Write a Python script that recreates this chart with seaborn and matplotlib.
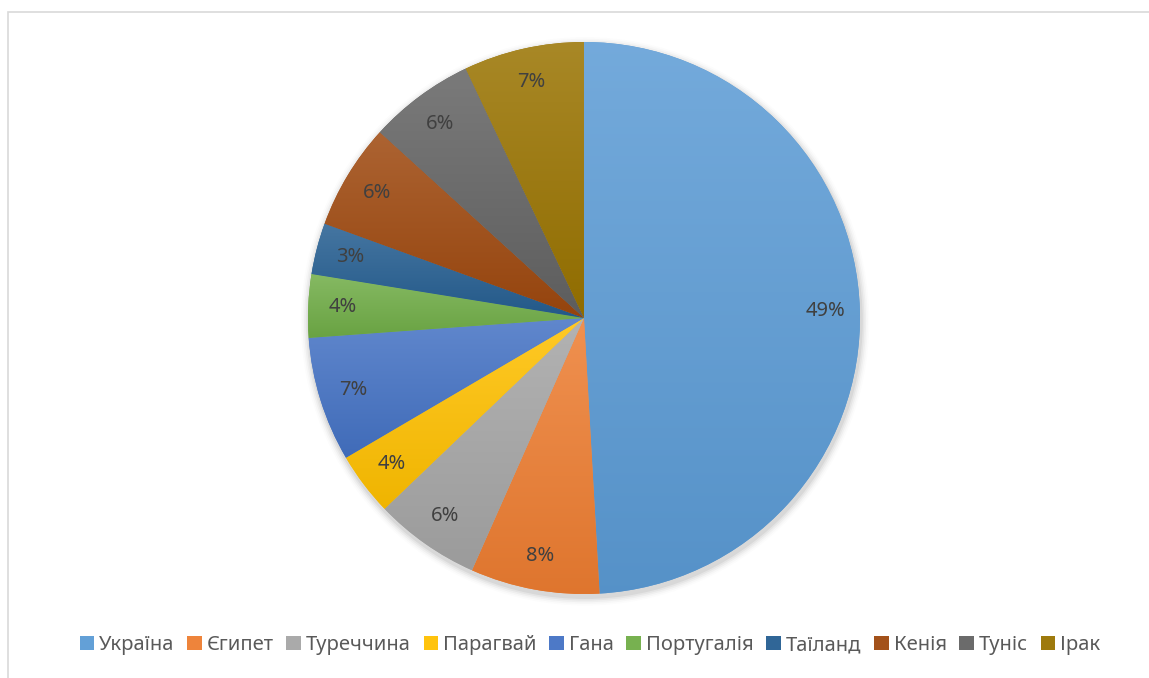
import matplotlib
matplotlib.use("Agg")
import matplotlib.pyplot as plt
import matplotlib.colors as mcolors
import numpy as np
import seaborn as sns
from matplotlib.patches import Rectangle

countries = ['Україна', 'Єгипет', 'Туреччина', 'Парагвай', 'Гана',
             'Португалія', 'Таїланд', 'Кенія', 'Туніс', 'Ірак']
shares = [49.1, 7.55, 6.2, 3.7, 7.3, 3.7, 3.0, 6.2, 6.2, 7.05]
base_colors = ['#5B9BD5', '#ED7D31', '#A5A5A5', '#FFC000', '#4472C4',
               '#70AD47', '#255E91', '#9E480E', '#636363', '#997300']

sns.set_theme(style='white')
plt.rcParams['font.family'] = ['Noto Sans', 'DejaVu Sans']

palette = sns.color_palette(base_colors)


def mix(c, other, t):
    c = np.array(mcolors.to_rgb(c))
    return tuple(c * (1 - t) + np.array(other) * t)


fig = plt.figure(figsize=(11.49, 6.78), dpi=100)
fig.patch.set_facecolor('white')

# chart border (only left/top visible)
fig.add_artist(Rectangle((8 / 1149, -0.05), 1.2, 1 - 12 / 678 + 0.05,
                         transform=fig.transFigure, fill=False,
                         edgecolor='#D9D9D9', linewidth=1.2))

cx, cy, r = 584, 318, 276
ax = fig.add_axes([(cx - r) / 1149, (678 - cy - r) / 678, 2 * r / 1149, 2 * r / 678])
lim = 1.0
ax.axis('off')

# soft shadow
for i, a in enumerate(np.linspace(0.05, 0.01, 5)):
    ax.add_patch(plt.Circle((0.004, -0.012), 1.0 + 0.006 * (i + 1), color='black',
                            alpha=a, zorder=0, linewidth=0, clip_on=False))

wedges, texts, autotexts = ax.pie(
    shares, colors=palette, startangle=90, counterclock=False, radius=1.0,
    autopct='%1.0f%%', pctdistance=0.875,
    wedgeprops=dict(linewidth=0),
    textprops=dict(color='#404040', fontsize=14.5))

for w, col in zip(wedges, palette):
    verts = w.get_path().vertices
    y0, y1 = max(verts[:, 1].min(), -1), min(verts[:, 1].max(), 1)
    top = mix(col, (1, 1, 1), 0.15)
    bot = mix(col, (0, 0, 0), 0.06)
    n = 256
    grad = np.array([mix(top, bot, t) for t in np.linspace(0, 1, n)]).reshape(n, 1, 3)
    im = ax.imshow(grad, extent=(-1, 1, y0, y1), origin='upper', aspect='auto',
                   zorder=w.get_zorder() + 0.1, interpolation='bilinear')
    im.set_clip_path(w)
for t in autotexts:
    t.set_zorder(5)

ax.set_xlim(-lim, lim)
ax.set_ylim(-lim, lim)
ax.set_aspect('equal')

handles = [Rectangle((0, 0), 1, 1, facecolor=mix(c, (1, 1, 1), 0.05), edgecolor='none')
           for c in palette]
fig.legend(handles, countries, loc='center', bbox_to_anchor=(590 / 1149, 1 - 645 / 678),
           ncol=10, frameon=False, fontsize=14.5, labelcolor='#595959',
           handlelength=0.72, handleheight=0.72, handletextpad=0.25,
           columnspacing=0.63)

fig.savefig('out.png', dpi=100, facecolor='white')
